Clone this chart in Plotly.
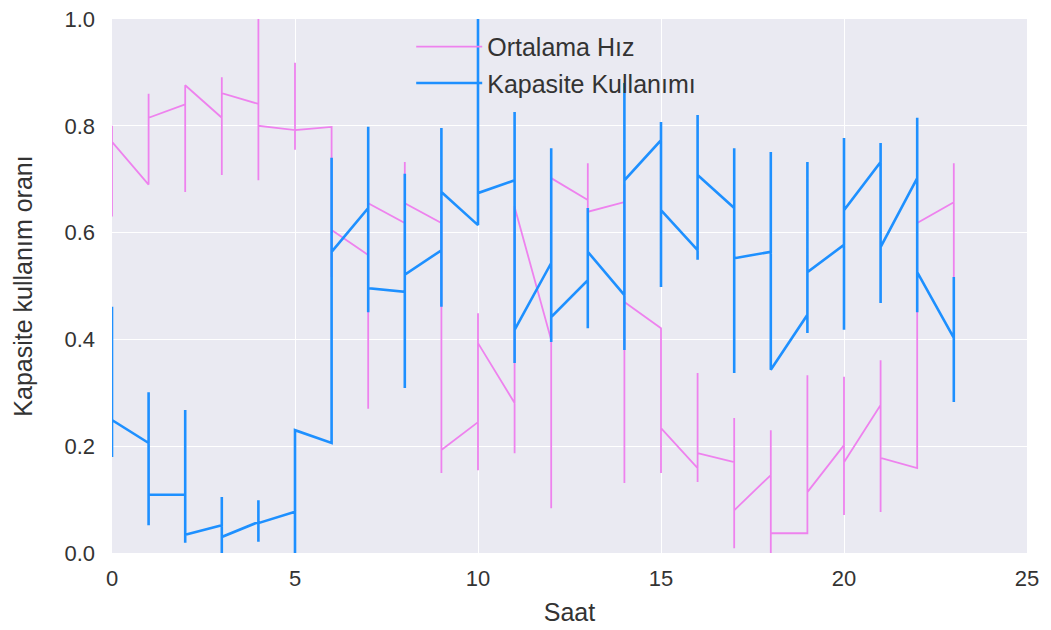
import plotly.graph_objects as go

hours = list(range(24))

# Ortalama Hız: per hour [entry, max, min, exit]
speed_points = [
    [0.70, 0.80, 0.63, 0.77],
    [0.69, 0.86, 0.69, 0.815],
    [0.84, 0.876, 0.676, 0.876],
    [0.815, 0.891, 0.708, 0.861],
    [0.841, 1.00, 0.698, 0.80],
    [0.792, 0.918, 0.755, 0.792],
    [0.798, 0.798, 0.517, 0.605],
    [0.558, 0.655, 0.27, 0.655],
    [0.618, 0.732, 0.55, 0.655],
    [0.618, 0.66, 0.15, 0.193],
    [0.245, 0.449, 0.155, 0.393],
    [0.281, 0.65, 0.187, 0.648],
    [0.399, 0.702, 0.084, 0.702],
    [0.661, 0.73, 0.62, 0.639],
    [0.657, 0.69, 0.131, 0.47],
    [0.421, 0.421, 0.15, 0.234],
    [0.159, 0.337, 0.133, 0.187],
    [0.17, 0.253, 0.009, 0.08],
    [0.146, 0.23, 0.0, 0.037],
    [0.037, 0.333, 0.037, 0.114],
    [0.202, 0.33, 0.071, 0.17],
    [0.277, 0.361, 0.077, 0.178],
    [0.159, 0.618, 0.159, 0.618],
    [0.657, 0.73, 0.517, 0.66],
]

# Kapasite Kullanımı: per hour [entry, max, min, exit]
capacity_points = [
    [0.30, 0.461, 0.18, 0.249],
    [0.206, 0.301, 0.052, 0.109],
    [0.109, 0.268, 0.019, 0.034],
    [0.052, 0.105, 0.0, 0.03],
    [0.058, 0.099, 0.021, 0.056],
    [0.077, 0.077, 0.0, 0.23],
    [0.206, 0.74, 0.206, 0.564],
    [0.646, 0.798, 0.451, 0.496],
    [0.489, 0.71, 0.309, 0.521],
    [0.567, 0.796, 0.461, 0.676],
    [0.614, 1.0, 0.614, 0.674],
    [0.698, 0.826, 0.356, 0.418],
    [0.543, 0.758, 0.395, 0.442],
    [0.511, 0.646, 0.421, 0.564],
    [0.483, 0.88, 0.38, 0.698],
    [0.773, 0.807, 0.498, 0.642],
    [0.567, 0.82, 0.549, 0.708],
    [0.646, 0.758, 0.337, 0.552],
    [0.564, 0.751, 0.343, 0.343],
    [0.446, 0.732, 0.412, 0.526],
    [0.577, 0.777, 0.418, 0.642],
    [0.732, 0.768, 0.468, 0.573],
    [0.702, 0.815, 0.451, 0.526],
    [0.403, 0.517, 0.283, 0.403],
]

def flatten(points):
    xs, ys = [], []
    for h, vals in zip(hours, points):
        for v in vals:
            xs.append(h)
            ys.append(v)
    return xs, ys

sx, sy = flatten(speed_points)
cx, cy = flatten(capacity_points)

fig = go.Figure()
fig.add_trace(go.Scatter(x=sx, y=sy, mode="lines", name="Ortalama Hız",
                         legendgroup="a",
                         line=dict(color="#EE82EE", width=1.8)))
fig.add_trace(go.Scatter(x=cx, y=cy, mode="lines", name="Kapasite Kullanımı",
                         legendgroup="b",
                         line=dict(color="#1E90FF", width=2.6)))

font_family = "Liberation Sans, Arial, sans-serif"
txt = "#333333"
fig.update_layout(
    width=1051, height=630,
    margin=dict(l=112, r=24, t=19, b=77, autoexpand=False),
    paper_bgcolor="white",
    plot_bgcolor="#EAEAF2",
    font=dict(family=font_family, size=22, color=txt),
    showlegend=True,
    legend=dict(x=0.327, y=0.991, xanchor="left", yanchor="top",
                bgcolor="rgba(0,0,0,0)", font=dict(size=25, color=txt),
                itemwidth=66, tracegroupgap=1),
    xaxis=dict(range=[0, 25], tickvals=[0, 5, 10, 15, 20, 25],
               showgrid=True, gridcolor="white", gridwidth=1.3,
               zeroline=False, showline=False, ticks="", automargin=False,
               ticklabelstandoff=10,
               title=dict(text="Saat", font=dict(size=25, color=txt), standoff=13),
               tickfont=dict(size=22, color=txt)),
    yaxis=dict(range=[0, 1], tickvals=[0, 0.2, 0.4, 0.6, 0.8, 1.0],
               tickformat=".1f",
               showgrid=True, gridcolor="white", gridwidth=1.3,
               zeroline=False, showline=False, ticks="", automargin=False,
               ticklabelstandoff=16,
               title=dict(text="Kapasite kullanım oranı", font=dict(size=25, color=txt), standoff=24),
               tickfont=dict(size=22, color=txt)),
)

fig.write_html("out.html")
